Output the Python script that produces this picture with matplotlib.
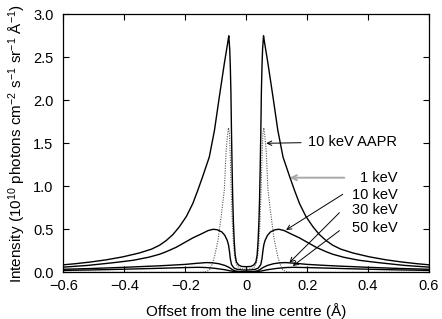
import matplotlib
matplotlib.use("Agg")
import matplotlib.pyplot as plt

plt.rcParams['font.family'] = ['Liberation Sans', 'DejaVu Sans']
plt.rcParams['font.size'] = 10.5
plt.rcParams['mathtext.fontset'] = 'custom'
plt.rcParams['mathtext.rm'] = 'Liberation Sans'
plt.rcParams['mathtext.it'] = 'Liberation Sans'

# ---- data ----
x_1kev = [-0.600, -0.560, -0.510, -0.459, -0.404, -0.350, -0.310, -0.284, -0.262, -0.240,
          -0.219, -0.196, -0.175, -0.159, -0.143, -0.121, -0.104, -0.088, -0.0715, -0.060,
          -0.057, -0.054, -0.052, -0.050, -0.048, -0.046, -0.044, -0.042, -0.039,
          -0.036, -0.032, -0.025, -0.015, 0.000,
          0.015, 0.025, 0.032, 0.036, 0.039, 0.042, 0.044, 0.046, 0.048, 0.050,
          0.052, 0.054, 0.057, 0.060, 0.0715, 0.088, 0.104, 0.121, 0.143, 0.159,
          0.175, 0.196, 0.219, 0.240, 0.262, 0.284, 0.310, 0.350, 0.404,
          0.459, 0.510, 0.560, 0.600]
y_1kev = [0.087, 0.100, 0.120, 0.145, 0.180, 0.225, 0.270, 0.315, 0.370, 0.440,
          0.530, 0.650, 0.800, 0.950, 1.110, 1.340, 1.650, 2.040, 2.430, 2.680,
          2.750, 2.600, 2.400, 2.100, 1.600, 1.200, 0.850, 0.600, 0.350,
          0.200, 0.120, 0.085, 0.068, 0.065,
          0.068, 0.085, 0.120, 0.200, 0.350, 0.600, 0.850, 1.200, 1.600, 2.100,
          2.400, 2.600, 2.750, 2.680, 2.430, 2.040, 1.650, 1.340, 1.110, 0.950,
          0.800, 0.650, 0.530, 0.440, 0.370, 0.315, 0.270, 0.225, 0.180,
          0.145, 0.120, 0.100, 0.087]

x_10kev = [-0.60, -0.56, -0.52, -0.48, -0.44, -0.404, -0.37, -0.32, -0.284, -0.262,
           -0.23, -0.20, -0.175, -0.145, -0.125, -0.108, -0.095, -0.080, -0.070, -0.062,
           -0.058, -0.055, -0.052, -0.048, -0.040, -0.030, -0.015, 0.000,
           0.015, 0.030, 0.040, 0.048, 0.052, 0.055, 0.058, 0.062, 0.070, 0.080,
           0.095, 0.108, 0.125, 0.145, 0.175, 0.20, 0.23, 0.262, 0.284, 0.32,
           0.37, 0.404, 0.44, 0.48, 0.52, 0.56, 0.60]
y_10kev = [0.060, 0.070, 0.080, 0.095, 0.110, 0.125, 0.140, 0.175, 0.210, 0.240,
           0.290, 0.350, 0.400, 0.450, 0.485, 0.500, 0.495, 0.470, 0.430, 0.370,
           0.320, 0.250, 0.160, 0.090, 0.050, 0.035, 0.028, 0.025,
           0.028, 0.035, 0.050, 0.090, 0.160, 0.250, 0.320, 0.370, 0.430, 0.470,
           0.495, 0.500, 0.485, 0.450, 0.400, 0.350, 0.290, 0.240, 0.210, 0.175,
           0.140, 0.125, 0.110, 0.095, 0.080, 0.070, 0.060]

x_30kev = [-0.60, -0.50, -0.40, -0.30, -0.26, -0.20, -0.16, -0.13, -0.11, -0.09,
           -0.07, -0.055, -0.045, -0.035, -0.02, 0.00,
           0.02, 0.035, 0.045, 0.055, 0.07, 0.09, 0.11, 0.13, 0.16, 0.20,
           0.26, 0.30, 0.40, 0.50, 0.60]
y_30kev = [0.035, 0.045, 0.058, 0.073, 0.080, 0.092, 0.105, 0.113, 0.110, 0.100,
           0.080, 0.055, 0.030, 0.015, 0.008, 0.005,
           0.008, 0.015, 0.030, 0.055, 0.080, 0.100, 0.110, 0.113, 0.105, 0.092,
           0.080, 0.073, 0.058, 0.045, 0.035]

x_50kev = [-0.60, -0.50, -0.40, -0.30, -0.20, -0.155, -0.13, -0.10, -0.07, -0.05,
           -0.03, 0.00, 0.03, 0.05, 0.07, 0.10, 0.13, 0.155, 0.20, 0.30,
           0.40, 0.50, 0.60]
y_50kev = [0.022, 0.028, 0.036, 0.045, 0.055, 0.058, 0.055, 0.045, 0.030, 0.015,
           0.005, 0.002, 0.005, 0.015, 0.030, 0.045, 0.055, 0.058, 0.055, 0.045,
           0.036, 0.028, 0.022]

x_aapr = [-0.600, -0.150, -0.130, -0.120, -0.112, -0.104, -0.092, -0.082, -0.0715, -0.066,
          -0.061, -0.058, -0.055, -0.052, -0.049, -0.045, -0.041, -0.037, -0.032, -0.025,
          -0.015, 0.000,
          0.015, 0.025, 0.032, 0.037, 0.041, 0.045, 0.049, 0.052, 0.055, 0.058,
          0.061, 0.066, 0.0715, 0.082, 0.092, 0.104, 0.112, 0.120, 0.130, 0.150, 0.600]
y_aapr = [0.000, 0.000, 0.008, 0.030, 0.090, 0.180, 0.380, 0.650, 0.960, 1.400,
          1.600, 1.680, 1.620, 1.350, 0.950, 0.550, 0.300, 0.170, 0.090, 0.055,
          0.040, 0.035,
          0.040, 0.055, 0.090, 0.170, 0.300, 0.550, 0.950, 1.350, 1.620, 1.680,
          1.600, 1.400, 0.960, 0.650, 0.380, 0.180, 0.090, 0.030, 0.008, 0.000, 0.000]

x_ticks = [-0.6, -0.4, -0.2, 0.0, 0.2, 0.4, 0.6]
x_ticklabels = ['\u22120.6', '\u22120.4', '\u22120.2', '0', '0.2', '0.4', '0.6']
y_ticks = [0.0, 0.5, 1.0, 1.5, 2.0, 2.5, 3.0]
y_ticklabels = ['0.0', '0.5', '1.0', '1.5', '2.0', '2.5', '3.0']

labels = ['10 keV AAPR', '1 keV', '10 keV', '30 keV', '50 keV']

fig = plt.figure(figsize=(4.42, 3.19), dpi=100)
ax = fig.add_axes([0.1432, 0.1464, 0.8274, 0.8088])

lw = 1.0
ax.plot(x_aapr, y_aapr, color='#555555', lw=0.8, ls=(0, (1.0, 1.2)))
ax.plot(x_50kev, y_50kev, color='black', lw=lw)
ax.plot(x_30kev, y_30kev, color='black', lw=lw)
ax.plot(x_10kev, y_10kev, color='black', lw=lw)
ax.plot(x_1kev, y_1kev, color='black', lw=lw)

ax.set_xlim(-0.6, 0.6)
ax.set_ylim(0.0, 3.0)
ax.set_xticks(x_ticks)
ax.set_xticklabels(x_ticklabels)
ax.set_yticks(y_ticks)
ax.set_yticklabels(y_ticklabels)
ax.tick_params(direction='in', top=True, right=True, length=4, width=0.8)
ax.tick_params(axis='x', pad=5)
ax.tick_params(axis='y', pad=7)
for s in ax.spines.values():
    s.set_linewidth(0.9)

ax.set_xlabel('Offset from the line centre (\u00c5)', labelpad=7, fontsize=11)
ax.set_ylabel('Intensity (10$^{10}$ photons cm$^{-2}$ s$^{-1}$ sr$^{-1}$ \u00c5$^{-1}$)',
              labelpad=4, fontsize=11)

arr = dict(arrowstyle='->', lw=0.7, color='black', shrinkA=0, shrinkB=0,
           mutation_scale=8)
# 10 keV AAPR
ax.text(0.203, 1.515, labels[0], ha='left', va='center')
ax.annotate('', xy=(0.066, 1.50), xytext=(0.18, 1.507), arrowprops=arr)
# 1 keV
ax.text(0.497, 1.096, labels[1], ha='right', va='center')
ax.annotate('', xy=(0.143, 1.10), xytext=(0.322, 1.10),
            arrowprops=dict(arrowstyle='->', lw=1.4, color='#a8a8a8',
                            shrinkA=0, shrinkB=0, mutation_scale=9))
# 10 keV
ax.text(0.497, 0.899, labels[2], ha='right', va='center')
ax.annotate('', xy=(0.131, 0.492), xytext=(0.317, 0.907), arrowprops=arr)
# 30 keV
ax.text(0.497, 0.724, labels[3], ha='right', va='center')
ax.annotate('', xy=(0.142, 0.112), xytext=(0.306, 0.693), arrowprops=arr)
# 50 keV
ax.text(0.497, 0.512, labels[4], ha='right', va='center')
ax.annotate('', xy=(0.153, 0.073), xytext=(0.306, 0.484), arrowprops=arr)

fig.savefig('out.png', dpi=100)
